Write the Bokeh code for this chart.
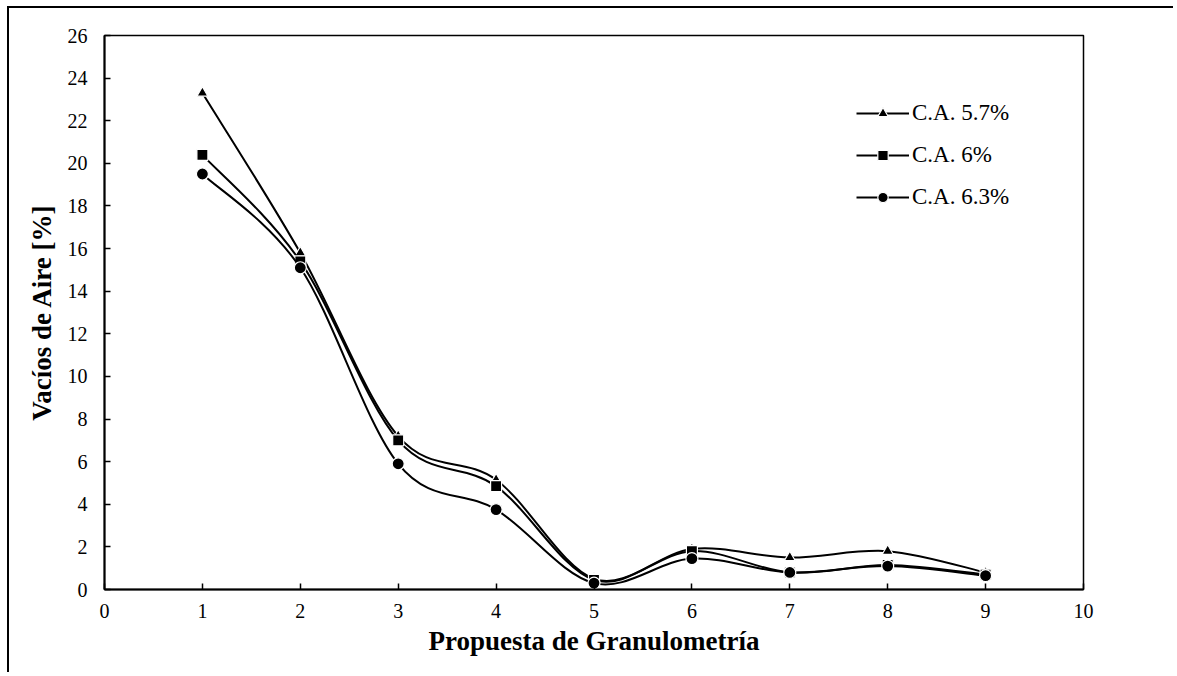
from bokeh.plotting import figure
from bokeh.models import Legend, LegendItem, SingleIntervalTicker, Range1d
from bokeh.embed import file_html
from bokeh.resources import INLINE

# ---- data ----
propuesta = [1, 2, 3, 4, 5, 6, 7, 8, 9]
ca_57 = [23.3, 15.8, 7.2, 5.15, 0.5, 1.9, 1.5, 1.8, 0.8]
ca_60 = [20.4, 15.4, 7.0, 4.85, 0.45, 1.8, 0.8, 1.15, 0.7]
ca_63 = [19.5, 15.1, 5.9, 3.75, 0.3, 1.45, 0.8, 1.1, 0.65]
series_labels = ["C.A. 5.7%", "C.A. 6%", "C.A. 6.3%"]
series_markers = ["triangle", "square", "circle"]
x_title = "Propuesta de Granulometría"
y_title = "Vacíos de Aire [%]"

FONT = "Liberation Serif"

p = figure(width=1166, height=666, output_backend="svg", toolbar_location=None,
           x_range=Range1d(0, 10), y_range=Range1d(0, 26),
           min_border_left=95, min_border_right=92, min_border_top=27, min_border_bottom=85)
p.styles = {"position": "absolute", "left": "7px", "top": "6px",
            "border-left": "2px solid black", "border-top": "2px solid black"}
p.xgrid.visible = False
p.ygrid.visible = False
p.outline_line_color = "black"
p.outline_line_width = 1.5
p.background_fill_color = "white"
p.border_fill_color = "white"

for ax, interval in ((p.xaxis[0], 1), (p.yaxis[0], 2)):
    ax.ticker = SingleIntervalTicker(interval=interval)
    ax.axis_line_width = 2
    ax.axis_line_color = "black"
    ax.major_tick_in = 6
    ax.major_tick_out = 0
    ax.major_tick_line_width = 1.5
    ax.minor_tick_line_color = None
    ax.major_label_text_font = FONT
    ax.major_label_text_font_size = "20px"
    ax.major_label_text_color = "black"
    ax.axis_label_text_font = FONT
    ax.axis_label_text_font_style = "bold"
    ax.axis_label_text_font_size = "27px"
    ax.axis_label_text_color = "black"

p.xaxis.axis_label = x_title
p.yaxis.axis_label = y_title
p.xaxis.major_label_standoff = 10
p.yaxis.major_label_standoff = 13
p.xaxis.axis_label_standoff = 5
p.yaxis.axis_label_standoff = 8


def bezier_segments(xs, ys):
    n = len(xs)
    segs = {k: [] for k in ("x0", "y0", "x1", "y1", "cx0", "cy0", "cx1", "cy1")}
    for i in range(n - 1):
        im1 = max(i - 1, 0)
        ip2 = min(i + 2, n - 1)
        segs["x0"].append(xs[i]); segs["y0"].append(ys[i])
        segs["x1"].append(xs[i + 1]); segs["y1"].append(ys[i + 1])
        segs["cx0"].append(xs[i] + (xs[i + 1] - xs[im1]) / 6)
        segs["cy0"].append(ys[i] + (ys[i + 1] - ys[im1]) / 6)
        segs["cx1"].append(xs[i + 1] - (xs[ip2] - xs[i]) / 6)
        segs["cy1"].append(ys[i + 1] - (ys[ip2] - ys[i]) / 6)
    return segs


items = []
sizes = {"triangle": 11, "square": 11, "circle": 12}
for ys, lab, mk in zip((ca_57, ca_60, ca_63), series_labels, series_markers):
    s = bezier_segments(propuesta, ys)
    p.bezier(line_color="black", line_width=2, **s)
    # single-point line: draws nothing in the plot, used for the legend swatch
    lr = p.line(x=propuesta[:1], y=ys[:1], line_color="black", line_width=2)
    sr = p.scatter(propuesta, ys, marker=mk, size=sizes[mk], fill_color="black",
                   line_color="white", line_width=1.2)
    items.append(LegendItem(label=lab, renderers=[lr, sr], index=0))

legend = Legend(items=items, location=(752, 379), padding=0, margin=0,
                spacing=16, glyph_width=53, glyph_height=26, label_height=26,
                label_standoff=3, border_line_alpha=0, background_fill_alpha=0,
                label_text_font=FONT, label_text_font_size="23px",
                label_text_color="black")
p.add_layout(legend)

open("out.html", "w").write(file_html(p, INLINE))
